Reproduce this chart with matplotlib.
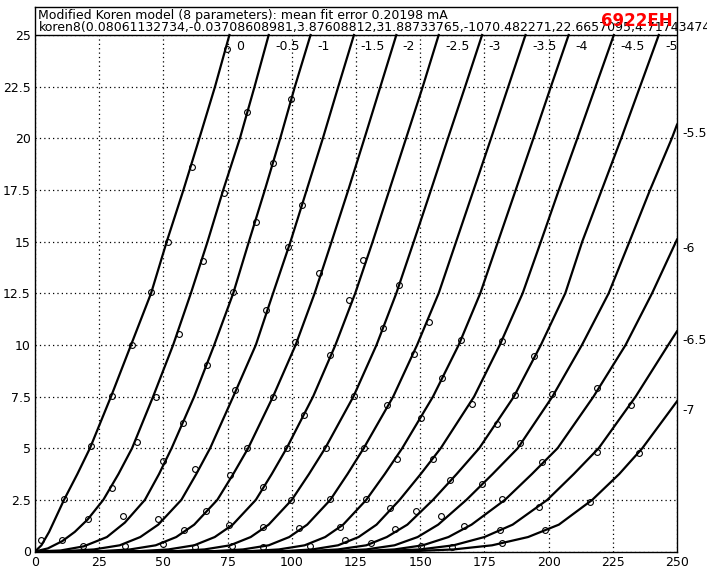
import numpy as np
import matplotlib
matplotlib.use("Agg")
import matplotlib.pyplot as plt
from matplotlib.patches import Rectangle

# Koren fit curves (Va in V, Ia in mA)
grid_v = ["0", "-0.5", "-1", "-1.5", "-2", "-2.5", "-3", "-3.5", "-4",
          "-4.5", "-5", "-5.5", "-6", "-6.5", "-7"]

tail_ia = [0, 0.02, 0.1, 0.3, 0.7, 1.3, 2.5, 3.75, 5, 7.5, 10, 12.5, 15, 17.5, 20, 22.5, 25]

va_0 = [0, 2.5, 5.5, 11.3, 16.5, 21.4, 29.6, 37.4, 45.2, 51.3, 57.8, 64.0, 70.1, 75.7]
ia_0 = [0, 0.3, 0.95, 2.5, 3.75, 5, 7.5, 10, 12.5, 15, 17.5, 20, 22.5, 25]
va_05 = [0, 5, 10.6, 15.5, 20.5, 26.6, 32.5, 37.8, 46.0, 53.8, 60.7, 67.2, 73.3, 79.8, 85.5, 91.0]
ia_05 = [0, 0.15, 0.5, 0.95, 1.55, 2.5, 3.75, 5, 7.5, 10, 12.5, 15, 17.5, 20, 22.5, 25]
va_1 = [0, 10, 19, 28, 35, 42.8, 48.3, 53.2, 62.0, 69.8, 77.2, 83.3, 89.5, 95.5, 101.2, 107.3]
ia_1 = [0, 0.05, 0.25, 0.7, 1.4, 2.5, 3.75, 5, 7.5, 10, 12.5, 15, 17.5, 20, 22.5, 25]
va_15 = [0, 12, 23, 33, 41, 48, 57, 62.8, 68.2, 77.2, 86.0, 92.7, 99.5, 105.8, 112.1, 118.1, 124.2]
va_2 = [0, 26, 37, 47, 55, 62, 71, 77.2, 83.0, 92.7, 101.5, 108.9, 115.5, 122.0, 128.3, 134.5, 140.7]
va_25 = [0, 41, 52, 62, 70, 77, 86, 92.2, 98.0, 108.3, 117.0, 124.7, 131.5, 138.0, 144.5, 151.0, 157.2]
va_3 = [0, 55, 66, 76, 84, 91, 100, 106.7, 113.0, 124.0, 133.0, 140.7, 147.5, 154.2, 160.8, 167.5, 174.1]
va_35 = [0, 70, 81, 91, 99, 106, 115, 121.7, 128.0, 139.5, 148.8, 157.2, 164.0, 170.8, 177.6, 184.3, 191.0]
va_4 = [0, 84, 95, 105, 113, 120, 129, 136.2, 143.0, 155.0, 165.0, 173.4, 180.3, 187.2, 194.1, 200.9, 207.8]
va_45 = [0, 97, 108, 118, 126, 133, 142, 150.2, 158.0, 171.0, 181.0, 189.9, 197.0, 204.0, 211.2, 218.3, 225.4]
va_5 = [0, 106, 118, 129, 137, 145, 155, 164.2, 173.0, 186.5, 197.0, 206.5, 213.1, 220.7, 228.3, 235.6, 242.9]
va_55 = [0, 116, 129, 140, 149, 157, 168, 178.2, 188.0, 201.5, 213.0, 223.4, 231.5, 239.5, 248.0, 250]
ia_55 = [0, 0.02, 0.1, 0.3, 0.7, 1.3, 2.5, 3.75, 5, 7.5, 10, 12.5, 15, 17.5, 20, 20.66]
va_6 = [0, 127, 140, 151, 161, 170, 183, 193.5, 203.5, 217.5, 230.0, 240.3, 250]
ia_6 = [0, 0.02, 0.1, 0.3, 0.7, 1.3, 2.5, 3.75, 5, 7.5, 10, 12.5, 15.1]
va_65 = [0, 135, 150, 163, 175, 186, 199.5, 209.8, 219.5, 233.9, 246.6, 250]
ia_65 = [0, 0.02, 0.1, 0.3, 0.7, 1.3, 2.5, 3.75, 5, 7.5, 10, 10.66]
va_7 = [0, 148, 163, 178, 192, 204, 217, 227.5, 236.5, 250]
ia_7 = [0, 0.02, 0.1, 0.3, 0.7, 1.3, 2.5, 3.75, 5, 7.27]

curves = [(va_0, ia_0), (va_05, ia_05), (va_1, ia_1), (va_15, tail_ia), (va_2, tail_ia),
          (va_25, tail_ia), (va_3, tail_ia), (va_35, tail_ia), (va_4, tail_ia),
          (va_45, tail_ia), (va_5, tail_ia), (va_55, ia_55), (va_6, ia_6),
          (va_65, ia_65), (va_7, ia_7)]

# measured points (open circles)
meas_va = [74.6, 61.3, 51.9, 82.4, 73.7, 65.6, 99.8, 92.7, 86.2, 104.1, 98.5, 110.6, 127.7, 141.7,
           2.3, 11.4, 21.8, 29.9, 37.6, 45.2, 10.6, 20.5, 29.9, 39.8, 47.1, 56.1, 77.2, 18.8,
           34.4, 48.0, 50.0, 57.8, 67.1, 35.0, 50.0, 58.2, 66.5, 62.3, 75.9, 77.9, 82.7, 62.3,
           75.5, 76.6,
           90.1, 101.1, 122.3, 135.5, 153.4, 115.0, 147.5, 92.7, 104.7, 124.2, 137.2, 158.6,
           166.0, 98.3, 113.4, 128.1, 141.1, 150.4, 155.0, 88.8, 99.8, 115.0, 129.0, 138.1,
           148.5, 161.7, 88.8, 102.8, 118.9, 140.1, 158.2, 120.6, 131.0, 88.8, 107.0, 150.4,
           162.4,
           181.9, 194.2, 170.2, 187.1, 201.3, 218.9, 231.9, 179.9, 189.0, 197.5, 218.9, 235.1,
           174.1, 181.9, 196.4, 216.3, 166.9, 181.2, 198.7, 181.9]
meas_ia = [24.33, 18.6, 15.0, 21.25, 17.35, 14.06, 21.9, 18.8, 15.97, 16.77, 14.76, 13.46, 14.1, 12.9,
           0.55, 2.52, 5.1, 7.52, 10.0, 12.55, 0.55, 1.55, 3.08, 5.3, 7.48, 10.53, 12.55, 0.26,
           1.74, 1.55, 4.37, 6.23, 9.03, 0.26, 0.34, 1.03, 1.98, 3.97, 3.68, 7.84, 5.0, 0.21,
           1.26, 0.29,
           11.68, 10.15, 12.15, 10.82, 11.11, 9.53, 9.58, 7.48, 6.6, 7.52, 7.11, 8.4,
           10.26, 5.02, 5.02, 5.02, 4.48, 6.47, 4.48, 3.13, 2.48, 2.52, 2.52, 2.11,
           1.95, 3.45, 1.19, 1.15, 1.19, 1.11, 1.71, 0.58, 0.42, 0.23, 0.29, 0.29,
           0.23,
           10.18, 9.45, 7.16, 7.58, 7.6, 7.92, 7.11, 6.15, 5.26, 4.34, 4.82, 4.77,
           3.27, 2.55, 2.16, 2.4, 1.23, 1.03, 1.06, 0.42]

x_ticks = [0, 25, 50, 75, 100, 125, 150, 175, 200, 225, 250]
y_ticks = [0, 2.5, 5, 7.5, 10, 12.5, 15, 17.5, 20, 22.5, 25]

title_line1 = "Modified Koren model (8 parameters): mean fit error 0.20198 mA"
title_line2 = ("koren8(0.08061132734,-0.03708608981,3.87608812,31.88733765,"
               "-1070.482271,22.6657095,4.71743474")
tube_name = "6922EH"

W, H = 707, 578
fig = plt.figure(figsize=(W / 100, H / 100), dpi=100)
ax = fig.add_axes([35 / W, (H - 551.5) / H, 642 / W, (551.5 - 6.7) / H])
ytop = 25 + (35 - 6.7) / 20.66
ax.set_xlim(0, 250)
ax.set_ylim(0, ytop)

ax.set_xticks(x_ticks)
ax.set_xticklabels([str(v) for v in x_ticks])
ax.set_yticks(y_ticks)
ax.set_yticklabels(["%g" % v for v in y_ticks])
ax.tick_params(length=0, labelsize=9, pad=3)
ax.set_axisbelow(True)
ax.grid(True, color="black", linestyle=(0, (1, 2.5)), linewidth=0.9)
for s in ax.spines.values():
    s.set_linewidth(1.0)

# header box above the 25 mA line
ax.add_patch(Rectangle((0, 25), 250, ytop - 25, facecolor="white", edgecolor="none", zorder=2))
ax.axhline(25, color="black", linewidth=1.0, zorder=3)

for (va, ia), lab in zip(curves, grid_v):
    ax.plot(va, ia, color="black", linewidth=1.6, zorder=4, clip_on=True)
    if va[-1] < 249:
        ax.text(va[-1] + 2.5, 24.45, lab, fontsize=9, va="center", ha="left", zorder=5)
    else:
        ax.text(252, ia[-1] - 0.45, lab, fontsize=9, va="center", ha="left", zorder=5,
                clip_on=False)

ax.plot(meas_va, meas_ia, linestyle="none", marker="o", markersize=4.2,
        markerfacecolor="none", markeredgecolor="black", markeredgewidth=0.8, zorder=5)

fig.text(38.5 / W, 1 - 15 / H, title_line1, fontsize=9, va="center", ha="left")
fig.text(38.5 / W, 1 - 27.5 / H, title_line2, fontsize=9, va="center", ha="left")
fig.text(637 / W, 1 - 21 / H, tube_name, fontsize=12, fontweight="bold", color="red",
         va="center", ha="center")

fig.savefig("out.png", dpi=100)
